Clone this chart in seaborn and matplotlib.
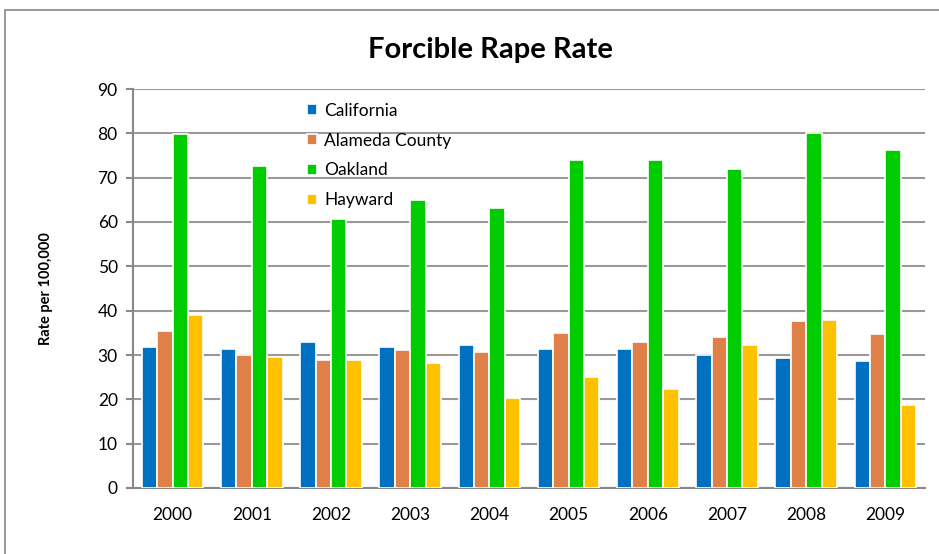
import matplotlib
matplotlib.use("Agg")
import matplotlib.pyplot as plt
import seaborn as sns
import pandas as pd
from matplotlib.patches import Rectangle

years = ["2000", "2001", "2002", "2003", "2004", "2005", "2006", "2007", "2008", "2009"]
california = [31.8, 31.4, 32.9, 31.8, 32.3, 31.4, 31.4, 30.0, 29.3, 28.6]
alameda = [35.4, 30.0, 28.9, 31.1, 30.7, 35.0, 32.9, 34.1, 37.7, 34.7]
oakland = [79.9, 72.6, 60.7, 65.0, 63.2, 74.0, 74.0, 72.0, 80.1, 76.2]
hayward = [39.0, 29.5, 28.9, 28.2, 20.3, 25.0, 22.3, 32.3, 37.9, 18.7]

series = ["California", "Alameda County", "Oakland", "Hayward"]
colors = ["#0070C0", "#DF8049", "#00CC00", "#FFC000"]

rows = []
for name, vals in zip(series, [california, alameda, oakland, hayward]):
    for y, v in zip(years, vals):
        rows.append({"Year": y, "Area": name, "Rate": v})
df = pd.DataFrame(rows)

sns.set_style("white")
plt.rcParams["font.family"] = ["Lato", "DejaVu Sans"]
plt.rcParams["text.color"] = "black"
plt.rcParams["xtick.color"] = "black"
plt.rcParams["ytick.color"] = "black"
plt.rcParams["axes.labelcolor"] = "black"

fig = plt.figure(figsize=(9.39, 5.54), dpi=100)
ax = fig.add_axes([133 / 939, 1 - 488 / 554, 792 / 939, 399 / 554])

sns.barplot(data=df, x="Year", y="Rate", hue="Area", palette=colors, saturation=1,
            width=0.78, edgecolor="white", linewidth=1.2, ax=ax, zorder=3)

ax.set_ylim(0, 90)
ax.set_yticks(range(0, 91, 10))
ax.set_xlim(-0.5, 9.5)
ax.yaxis.grid(True, color="#999999", linewidth=1.5, zorder=0)
ax.set_axisbelow(True)
for s in ["top", "right"]:
    ax.spines[s].set_visible(False)
for s in ["left", "bottom"]:
    ax.spines[s].set_color("#888888")
    ax.spines[s].set_linewidth(1.5)

# category boundary ticks on x axis
ax.set_xticks(range(10))
ax.set_xticklabels(years)
ax.set_xticks([i - 0.5 for i in range(11)], minor=True)
ax.tick_params(axis="x", which="major", length=0, labelsize=12.5, pad=14)
ax.tick_params(axis="x", which="minor", length=6, width=1.5, color="#888888", direction="out")
ax.tick_params(axis="y", length=5, width=1.5, color="#888888", labelcolor="black",
               direction="out", labelsize=12.5, left=True, pad=6)
ax.set_xlabel("")
ax.set_ylabel("Rate per 100,000", fontsize=10.5, fontweight="bold", labelpad=32)

leg = ax.legend(loc="upper left", bbox_to_anchor=(0.2, 1.005), frameon=False,
                fontsize=12.5, handlelength=0.6, handleheight=0.6,
                labelspacing=0.8, handletextpad=0.4)

fig.text(0.522, 1 - 50 / 554, "Forcible Rape Rate", ha="center", va="center",
         fontsize=21, fontweight="bold")

fig.patches.append(Rectangle((5 / 939, -0.05), 1.0, 1 - 10 / 554 + 0.05,
                             transform=fig.transFigure, fill=False,
                             edgecolor="#888888", linewidth=1.2))

fig.savefig("out.png", dpi=100)
